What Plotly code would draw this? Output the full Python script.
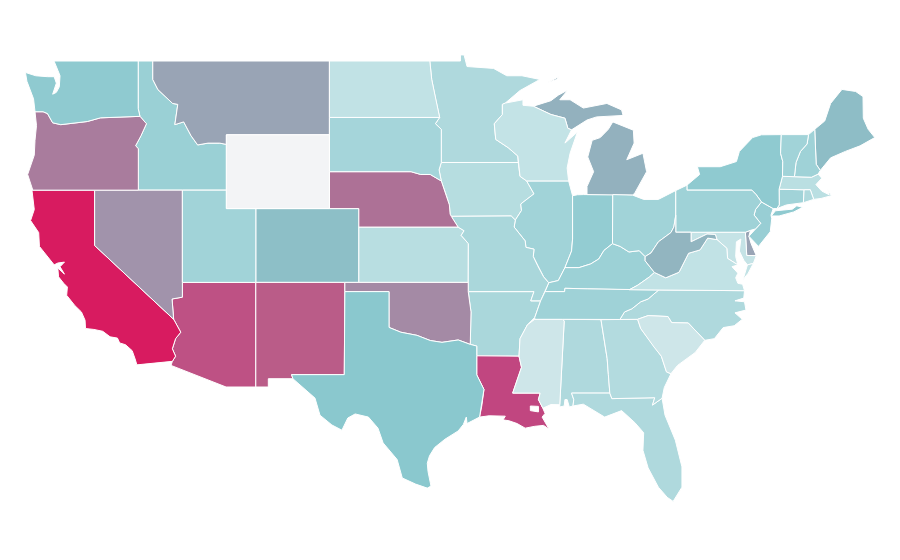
import plotly.graph_objects as go
from plotly.colors import sample_colorscale

# plotly's geo traces fetch topojson from a CDN and there is no network here,
# so the state outlines live in this file (lon,lat, hand simplified) and are drawn on plain lon/lat axes
OUTLINES = {
    "WA": ["-117.04,49 -122.76,49 -122.5,48.5 -122.35,48.2 -122.4,47.6 -122.6,47.3 -122.85,47.2 -122.6,47.8 -122.75,48.15 -123.2,48.15 -124,48.2 -124.7,48.38 -124.6,47.9 -124.15,46.95 -124.05,46.25 -123.5,46.25 -123.2,46.15 -122.85,45.65 -122.3,45.55 -121.2,45.65 -120.5,45.72 -119.6,45.92 -119,45.93 -116.92,46 -117.04,46.42"],
    "OR": ["-124.05,46.25 -123.5,46.25 -123.2,46.15 -122.85,45.65 -122.3,45.55 -121.2,45.65 -120.5,45.72 -119.6,45.92 -119,45.93 -116.92,46 -116.48,45.6 -116.85,44.95 -117.22,44.4 -117.03,44.25 -117.03,42 -120,42 -124.2,42 -124.55,42.85 -124.1,43.9 -124.05,44.7 -123.95,45.5"],
    "CA": ["-124.2,42 -120,42 -120,39 -114.63,35 -114.15,34.3 -114.5,33.95 -114.72,33.4 -114.5,33 -114.72,32.72 -117.13,32.53 -117.25,32.85 -117.45,33.3 -117.9,33.62 -118.3,33.72 -118.45,33.98 -118.95,34.05 -119.45,34.35 -120.05,34.45 -120.62,34.5 -120.65,34.95 -120.9,35.4 -121.35,35.75 -121.9,36.3 -121.85,36.75 -122.1,36.95 -122.45,37.3 -122.5,37.78 -122.05,37.45 -122.35,37.85 -122.05,38.1 -122.5,38.05 -122.75,37.95 -123.05,38.25 -123.75,38.95 -123.8,39.7 -124.35,40.35 -124.1,40.95 -124.25,41.95"],
    "NV": ["-120,42 -117.03,42 -114.04,42 -114.04,37 -114.04,36.2 -114.74,36.1 -114.63,35 -120,39"],
    "ID": ["-117.04,49 -116.05,49 -116.05,48 -115.7,47.45 -114.7,46.7 -114.35,46.65 -114.55,45.55 -113.95,45.7 -113.45,44.95 -113,44.45 -112.3,44.55 -111.5,44.55 -111.05,44.48 -111.05,42 -114.04,42 -117.03,42 -117.03,44.25 -117.22,44.4 -116.85,44.95 -116.48,45.6 -116.92,46 -117.04,46.42"],
    "MT": ["-116.05,49 -104.05,49 -104.05,45.94 -104.05,45 -111.05,45 -111.05,44.48 -111.5,44.55 -112.3,44.55 -113,44.45 -113.45,44.95 -113.95,45.7 -114.55,45.55 -114.35,46.65 -114.7,46.7 -115.7,47.45 -116.05,48"],
    "WY": ["-111.05,45 -104.05,45 -104.05,43 -104.05,41 -111.05,41 -111.05,42 -111.05,44.48"],
    "UT": ["-114.04,42 -111.05,42 -111.05,41 -109.05,41 -109.05,37 -114.04,37"],
    "CO": ["-109.05,41 -104.05,41 -102.05,41 -102.05,40 -102.05,37 -103,37 -109.05,37"],
    "AZ": ["-114.04,37 -109.05,37 -109.05,31.33 -111.07,31.33 -114.81,32.5 -114.72,32.72 -114.5,33 -114.72,33.4 -114.5,33.95 -114.15,34.3 -114.63,35 -114.74,36.1 -114.04,36.2"],
    "NM": ["-109.05,37 -103,37 -103,36.5 -103.04,32 -106.62,32 -106.53,31.78 -108.2,31.78 -108.2,31.33 -109.05,31.33"],
    "TX": ["-103,36.5 -100,36.5 -100,34.56 -99.2,34.3 -98.1,34.13 -97.2,33.85 -96.4,33.75 -95.3,33.88 -94.48,33.64 -94.04,33.55 -94.04,33.02 -94.04,31.99 -93.55,31.2 -93.7,30.3 -93.85,29.7 -94.7,29.35 -94.75,29.7 -94.95,29.3 -95.3,28.95 -96.2,28.5 -96.9,28.05 -97.25,27.6 -97.4,27.2 -97.35,26.75 -97.15,25.96 -97.4,25.85 -98.2,26.07 -99.1,26.4 -99.45,27.4 -100.4,28.3 -100.75,29.1 -101.4,29.7 -102.3,29.87 -102.8,29.65 -103.2,28.99 -103.88,29.27 -104.69,29.8 -105.03,30.73 -106,31.4 -106.53,31.78 -106.62,32 -103.04,32"],
    "OK": ["-103,37 -102.05,37 -94.62,37 -94.62,36.5 -94.43,35.4 -94.48,33.64 -95.3,33.88 -96.4,33.75 -97.2,33.85 -98.1,34.13 -99.2,34.3 -100,34.56 -100,36.5 -103,36.5"],
    "KS": ["-102.05,40 -95.31,40 -94.9,39.8 -95.1,39.55 -94.61,39.1 -94.62,37 -102.05,37"],
    "NE": ["-104.05,43 -98.5,43 -97.85,42.85 -97.2,42.85 -96.45,42.5 -96.1,41.7 -95.9,41.2 -95.85,40.7 -95.77,40.58 -95.31,40 -102.05,40 -102.05,41 -104.05,41"],
    "SD": ["-104.05,45.94 -96.56,45.94 -96.85,45.6 -96.45,45.3 -96.45,43.5 -96.6,43.1 -96.45,42.5 -97.2,42.85 -97.85,42.85 -98.5,43 -104.05,43 -104.05,45"],
    "ND": ["-104.05,49 -97.23,49 -97.1,48 -96.85,47 -96.56,45.94 -104.05,45.94"],
    "MN": ["-97.23,49 -95.15,49 -95.15,49.33 -94.9,49.33 -94.7,48.7 -92.9,48.6 -92,48.2 -90.97,48.2 -89.75,48 -91.1,47.4 -92.1,46.72 -92.3,46.65 -92.3,46.1 -92.85,45.6 -92.75,44.75 -91.9,44.3 -91.25,43.85 -91.22,43.5 -96.45,43.5 -96.45,45.3 -96.85,45.6 -96.56,45.94 -96.85,47 -97.1,48"],
    "IA": ["-96.45,43.5 -91.22,43.5 -91.1,42.75 -90.65,42.5 -90.15,41.8 -91.05,41.25 -91,40.9 -91.42,40.38 -91.7,40.6 -95.77,40.58 -95.85,40.7 -95.9,41.2 -96.1,41.7 -96.45,42.5 -96.6,43.1"],
    "MO": ["-95.77,40.58 -91.7,40.6 -91.42,40.38 -91.5,40 -90.75,39.25 -90.7,38.9 -90.15,38.8 -90.2,38.4 -89.9,37.9 -89.5,37.3 -89.15,36.98 -89.4,36.5 -89.7,36 -90.37,36 -90.15,36.5 -94.62,36.5 -94.62,37 -94.61,39.1 -95.1,39.55 -94.9,39.8 -95.31,40"],
    "AR": ["-94.62,36.5 -90.15,36.5 -90.37,36 -89.7,36 -90.1,35.1 -90.6,34.7 -91.1,33.95 -91.17,33 -94.04,33.02 -94.04,33.55 -94.48,33.64 -94.43,35.4"],
    "LA": ["-94.04,33.02 -91.17,33 -91,32.4 -91.6,31 -89.73,31 -89.85,30.65 -89.55,30.18 -89.4,29.9 -89.6,29.7 -89.4,29.45 -89.13,29.05 -89.5,29.25 -90.1,29.2 -90.75,29.1 -91.3,29.35 -91.85,29.5 -92.25,29.55 -92.1,29.75 -93.2,29.77 -93.85,29.7 -93.7,30.3 -93.55,31.2 -94.04,31.99",
           "-90.4,30.3 -90.4,30.05 -89.85,29.98 -89.85,30.28"],
    "MS": ["-90.1,35 -88.2,35 -88.1,34.9 -88.4,30.37 -89,30.38 -89.55,30.18 -89.85,30.65 -89.73,31 -91.6,31 -91,32.4 -91.17,33 -91.1,33.95 -90.6,34.7"],
    "AL": ["-88.2,35 -85.6,34.98 -85.18,32.87 -85.1,32 -85,31 -87.6,31 -87.45,30.65 -87.5,30.3 -87.75,30.25 -87.9,30.65 -88.05,30.65 -88.1,30.3 -88.4,30.25 -88.4,30.37 -88.1,34.9"],
    "TN": ["-90.1,35.1 -90.1,35 -88.2,35 -85.6,34.98 -84.32,34.99 -84,35.4 -83.5,35.57 -82.9,35.95 -82.4,36.1 -81.68,36.59 -83.68,36.6 -86.5,36.65 -88.05,36.68 -88.07,36.5 -89.4,36.5 -89.7,36"],
    "KY": ["-89.4,36.5 -88.07,36.5 -88.05,36.68 -86.5,36.65 -83.68,36.6 -83.1,36.85 -82.3,37.3 -81.97,37.54 -82.6,38.17 -82.6,38.4 -83,38.72 -83.7,38.65 -84.3,38.95 -84.82,39.1 -85.4,38.73 -85.75,38.27 -86.3,38 -87.1,37.8 -88.05,37.8 -88.5,37.1 -89.15,36.98"],
    "IL": ["-90.65,42.5 -87.8,42.5 -87.53,41.7 -87.53,39.35 -87.6,38.7 -88.05,37.8 -88.5,37.1 -89.15,36.98 -89.5,37.3 -89.9,37.9 -90.2,38.4 -90.15,38.8 -90.7,38.9 -90.75,39.25 -91.5,40 -91.42,40.38 -91,40.9 -91.05,41.25 -90.15,41.8"],
    "IN": ["-87.53,41.7 -87.2,41.75 -86.8,41.76 -84.8,41.76 -84.82,39.1 -85.4,38.73 -85.75,38.27 -86.3,38 -87.1,37.8 -88.05,37.8 -87.6,38.7 -87.53,39.35"],
    "OH": ["-84.8,41.76 -83.45,41.73 -82.7,41.5 -81.7,41.5 -80.52,41.98 -80.52,40.64 -80.65,40 -80.85,39.7 -81.7,39.2 -82.2,38.6 -82.6,38.4 -83,38.72 -83.7,38.65 -84.3,38.95 -84.82,39.1"],
    "WV": ["-80.52,40.64 -80.52,39.72 -79.48,39.72 -79.48,39.2 -78.4,39.62 -77.83,39.6 -77.72,39.32 -78.35,39.4 -78.87,38.76 -79.65,38.58 -80.3,37.55 -81.2,37.25 -81.97,37.54 -82.6,38.17 -82.6,38.4 -82.2,38.6 -81.7,39.2 -80.85,39.7 -80.65,40"],
    "VA": ["-83.68,36.6 -81.68,36.59 -75.85,36.55 -75.98,36.9 -76.3,36.95 -76.45,37.25 -76.3,37.5 -76.7,37.85 -76.3,37.95 -77,38.3 -77.05,38.75 -77.05,38.85 -77.72,39.32 -78.35,39.4 -78.87,38.76 -79.65,38.58 -80.3,37.55 -81.2,37.25 -81.97,37.54 -82.3,37.3 -83.1,36.85",
           "-75.95,37.15 -75.65,37.95 -75.25,38.03 -75.6,37.5"],
    "MD": ["-79.48,39.72 -75.79,39.72 -75.7,38.46 -75.05,38.45 -75.25,38.03 -75.65,37.95 -75.9,38.2 -76.2,38.7 -76.1,39.35 -76.4,39.2 -76.45,38.4 -76.3,37.95 -77,38.3 -77.05,38.75 -77.05,38.85 -77.72,39.32 -77.83,39.6 -78.4,39.62 -79.48,39.2"],
    "DE": ["-75.79,39.72 -75.45,39.82 -75.55,39.5 -75.4,39.1 -75.05,38.45 -75.7,38.46"],
    "PA": ["-80.52,41.98 -79.76,42.27 -79.76,42 -75.35,42 -75.05,41.75 -74.7,41.36 -75.1,40.95 -75.2,40.65 -74.75,40.2 -75.1,39.9 -75.45,39.82 -75.79,39.72 -79.48,39.72 -80.52,39.72 -80.52,40.64"],
    "NJ": ["-74.7,41.36 -73.9,41 -74.05,40.65 -74,40.45 -74.1,39.75 -74.9,38.95 -75.55,39.5 -75.1,39.9 -74.75,40.2 -75.2,40.65 -75.1,40.95"],
    "NY": ["-79.76,42 -79.76,42.27 -78.9,42.85 -79.05,43.27 -77.5,43.27 -76.4,43.55 -76.2,44.1 -75.3,44.85 -74.7,45 -73.35,45.01 -73.4,44 -73.25,43.55 -73.27,42.75 -73.5,42.05 -73.49,41.2 -73.65,41 -73.9,41 -74.7,41.36 -75.05,41.75 -75.35,42",
           "-74.03,40.6 -73.75,40.88 -72.6,40.97 -72.3,41.15 -71.9,41.07 -72.5,40.82 -73.5,40.6"],
    "CT": ["-73.5,42.05 -71.8,42.02 -71.85,41.32 -73,41.2 -73.65,41 -73.49,41.2"],
    "RI": ["-71.8,42.02 -71.38,42.02 -71.15,41.5 -71.85,41.32"],
    "MA": ["-73.5,42.05 -73.27,42.75 -72.46,42.73 -71.3,42.7 -70.85,42.87 -70.6,42.65 -71,42.3 -70.6,41.95 -70.1,41.75 -70.2,42.05 -69.95,41.7 -70.65,41.55 -71.15,41.5 -71.38,42.02 -71.8,42.02"],
    "VT": ["-73.35,45.01 -71.5,45.01 -71.6,44.5 -72.05,44.1 -72.35,43.5 -72.46,42.73 -73.27,42.75 -73.25,43.55 -73.4,44"],
    "NH": ["-71.5,45.01 -71.08,45.3 -70.98,43.4 -70.7,43.07 -70.85,42.87 -71.3,42.7 -72.46,42.73 -72.35,43.5 -72.05,44.1 -71.6,44.5"],
    "ME": ["-71.08,45.3 -70.4,45.75 -70,46.7 -69.23,47.46 -68.3,47.35 -67.8,47.07 -67.78,45.9 -67.45,45.3 -67,44.85 -68,44.4 -69,44.1 -70,43.75 -70.7,43.07 -70.98,43.4"],
    "MI": ["-86.55,41.76 -84.8,41.76 -83.45,41.73 -83.3,41.85 -82.5,43 -82.75,44 -83.85,43.65 -83.35,44.55 -83.4,45.25 -84.8,45.7 -85.1,45.3 -85.65,44.85 -86.2,44.7 -86.5,43.8 -86.1,43 -86.55,42.2",
           "-90.2,46.55 -89,46.85 -88.5,47.15 -87.85,47.43 -88.4,46.9 -87.7,46.9 -86.8,46.45 -85.2,46.7 -84.2,46.35 -84.1,46.05 -85.9,45.97 -86.55,45.8 -87.6,45.27 -87.85,45.35 -88.05,45.9 -89,46.1",
           "-89.2,47.85 -88.45,48.15 -88.6,48"],
    "WI": ["-92.1,46.72 -90.9,46.9 -90.9,46.6 -90.2,46.55 -89,46.1 -88.05,45.9 -87.85,45.35 -87.6,45.27 -88.05,44.55 -87.2,45.15 -87.7,44 -87.9,43.2 -87.8,42.5 -90.65,42.5 -91.1,42.75 -91.22,43.5 -91.25,43.85 -91.9,44.3 -92.75,44.75 -92.85,45.6 -92.3,46.1 -92.3,46.65"],
    "NC": ["-84.32,34.99 -83.11,35 -82.4,35.2 -81.05,35.15 -80.8,34.82 -79.67,34.8 -78.55,33.86 -77.9,33.95 -77.3,34.55 -76.55,34.65 -76,35 -76.5,35.35 -75.75,35.5 -75.85,35.95 -76.5,36 -75.9,36.15 -75.85,36.55 -81.68,36.59 -82.4,36.1 -82.9,35.95 -83.5,35.57 -84,35.4"],
    "SC": ["-83.11,35 -82.4,35.2 -81.05,35.15 -80.8,34.82 -79.67,34.8 -78.55,33.86 -79.2,33.2 -80.4,32.5 -80.85,32.05 -81.15,32.15 -81.5,33 -82,33.5 -82.9,34.5"],
    "GA": ["-85.6,34.98 -84.32,34.99 -83.11,35 -82.9,34.5 -82,33.5 -81.5,33 -81.15,32.15 -80.85,32.05 -81.3,31.3 -81.45,30.72 -82.1,30.35 -81.95,30.75 -84.86,30.7 -85,31 -85.1,32 -85.18,32.87"],
    "FL": ["-87.6,31 -85,31 -84.86,30.7 -81.95,30.75 -82.1,30.35 -81.45,30.72 -81.25,29.8 -80.55,28.45 -80.1,27 -80.1,25.9 -80.7,25.13 -81.1,25.35 -81.7,25.9 -82.4,26.95 -82.75,27.9 -82.7,28.85 -83.3,29.4 -84.2,30.05 -85.35,29.7 -86.8,30.4 -87.5,30.3 -87.45,30.65"],
}

states = ["AL", "AR", "AZ", "CA", "CO", "CT", "DE", "FL", "GA", "IA", "ID", "IL", "IN", "KS", "KY", "LA",
          "MA", "MD", "ME", "MI", "MN", "MO", "MS", "MT", "NC", "ND", "NE", "NH", "NJ", "NM", "NV", "NY",
          "OH", "OK", "OR", "PA", "RI", "SC", "SD", "TN", "TX", "UT", "VA", "VT", "WA", "WI", "WV", "WY"]
values = [24, 25, 76, 100, 37, 27, 44, 24, 23, 22.5, 28.5, 27, 30, 22, 28, 80,
          21.5, 18.5, 38, 41, 24, 25, 15, 44, 24, 20, 60, 27.5, 29, 72, 50, 31,
          27, 52, 55, 27.5, 24, 15, 26, 27.5, 32, 27, 20, 27, 31, 19, 40, 0]

colorscale = [[0, "#f3f4f6"], [0.2, "#c1e2e5"], [0.32, "#8ac8ce"], [0.38, "#8ebdc6"], [0.44, "#99a4b5"],
              [0.5, "#a193ab"], [0.55, "#a97c9d"], [0.6, "#ad7196"], [0.72, "#ba5c88"], [0.8, "#c14680"], [1, "#d81b60"]]

fig = go.Figure()
for st, val in zip(states, values):
    lons, lats = [], []
    for ring in OUTLINES[st]:
        pts = [p.split(",") for p in ring.split()]
        lons += [float(p[0]) for p in pts] + [float(pts[0][0]), None]
        lats += [float(p[1]) for p in pts] + [float(pts[0][1]), None]
    fig.add_trace(go.Scatter(x=lons, y=lats, mode="lines", name=st, fill="toself",
                             fillcolor=sample_colorscale(colorscale, val / 100)[0],
                             line=dict(color="white", width=1), hoverinfo="name"))

fig.update_layout(
    xaxis=dict(range=[-125.885, -65.83], visible=False),
    yaxis=dict(range=[22.387, 51.873], visible=False),
    margin=dict(l=0, r=0, t=0, b=0),
    paper_bgcolor="white", plot_bgcolor="white", showlegend=False,
)
fig.write_html("out.html")
